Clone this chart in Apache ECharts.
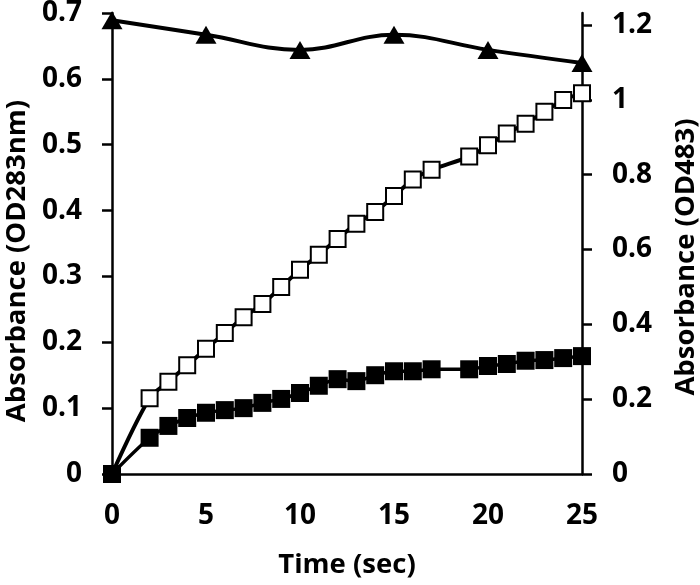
<!DOCTYPE html>
<html>
<head>
<meta charset="utf-8">
<script src="https://cdn.jsdelivr.net/npm/echarts@6/dist/echarts.min.js"></script>
<style>html,body{margin:0;padding:0;background:#fff}#c{width:700px;height:585px}</style>
</head>
<body>
<div id="c"></div>
<script>
// Data
const xTicks = [0, 5, 10, 15, 20, 25];
const leftTicks = [0, 0.1, 0.2, 0.3, 0.4, 0.5, 0.6, 0.7];
const rightTicks = [0, 0.2, 0.4, 0.6, 0.8, 1, 1.2];

const triTimes = [0, 5, 10, 15, 20, 25];
const triVals = [0.689, 0.667, 0.644, 0.667, 0.644, 0.624];

const sqTimes = [0, 2, 3, 4, 5, 6, 7, 8, 9, 10, 11, 12, 13, 14, 15, 16, 17, 19, 20, 21, 22, 23, 24, 25];
const openVals = [0, 0.115, 0.140, 0.165, 0.190, 0.214, 0.238, 0.258, 0.284, 0.310, 0.333, 0.357, 0.380, 0.398, 0.422, 0.447, 0.462, 0.482, 0.499, 0.517, 0.532, 0.550, 0.568, 0.578];
const filledVals = [0, 0.055, 0.073, 0.085, 0.093, 0.097, 0.100, 0.108, 0.114, 0.123, 0.134, 0.144, 0.141, 0.150, 0.156, 0.156, 0.159, 0.159, 0.164, 0.167, 0.172, 0.173, 0.176, 0.179];

const xTitle = 'Time (sec)';
const leftTitle = 'Absorbance (OD283nm)';
const rightTitle = 'Absorbance (OD483)';

const FONT = 'Open Sans';
const pair = (xs, ys) => xs.map((x, i) => [x, ys[i]]);
const axisLine = { show: true, lineStyle: { color: '#000', width: 2.5 } };
const lbl = { fontFamily: FONT, fontWeight: 'bold', fontSize: 28, color: '#000' };
const ttlStyle = (text) => ({ text: text, fontFamily: FONT, fontWeight: 'bold', fontSize: 27.5, fill: '#000', align: 'center', verticalAlign: 'middle' });

const chart = echarts.init(document.getElementById('c'), null, { renderer: 'canvas' });
chart.setOption({
  animation: false,
  backgroundColor: '#fff',
  grid: { left: 112, right: 118, top: 13, bottom: 111, containLabel: false, outerBoundsMode: 'none' },
  graphic: [
    { type: 'text', x: 347, y: 565, style: ttlStyle(xTitle) },
    { type: 'text', x: 17, y: 261, rotation: Math.PI / 2, style: ttlStyle(leftTitle) },
    { type: 'text', x: 686, y: 257, rotation: Math.PI / 2, style: ttlStyle(rightTitle) }
  ],
  xAxis: {
    type: 'value', min: 0, max: 25, interval: 5,
    axisLine: axisLine,
    axisTick: { show: false },
    splitLine: { show: false },
    axisLabel: Object.assign({ customValues: xTicks, margin: 28 }, lbl)
  },
  yAxis: [{
    type: 'value', min: 0, max: 0.7, interval: 0.1, position: 'left',
    axisLine: axisLine,
    axisTick: { show: true, inside: false, length: 10, lineStyle: { color: '#000', width: 2.5 }, customValues: leftTicks },
    splitLine: { show: false },
    axisLabel: Object.assign({ customValues: leftTicks, margin: 30, formatter: v => String(+v.toFixed(1)) }, lbl)
  }, {
    type: 'value', min: 0, max: 1.232, position: 'right',
    axisLine: axisLine,
    axisTick: { show: true, inside: false, length: 10, lineStyle: { color: '#000', width: 2.5 }, customValues: rightTicks },
    splitLine: { show: false },
    axisLabel: Object.assign({ customValues: rightTicks, margin: 30, formatter: v => String(+v.toFixed(1)) }, lbl)
  }],
  series: [{
    type: 'line', yAxisIndex: 0, data: pair(triTimes, triVals), smooth: 0.4,
    symbol: 'triangle', symbolSize: [21, 18],
    itemStyle: { color: '#000' }, lineStyle: { color: '#000', width: 4 }, z: 2
  }, {
    type: 'line', yAxisIndex: 0, data: pair(sqTimes, openVals), smooth: 0.3,
    symbol: 'rect', symbolSize: 16,
    itemStyle: { color: '#fff', borderColor: '#000', borderWidth: 2 }, lineStyle: { color: '#000', width: 4 }, z: 3
  }, {
    type: 'line', yAxisIndex: 0, data: pair(sqTimes, filledVals), smooth: 0.3,
    symbol: 'rect', symbolSize: 18,
    itemStyle: { color: '#000' }, lineStyle: { color: '#000', width: 3.5 }, z: 4
  }]
});
</script>
</body>
</html>
